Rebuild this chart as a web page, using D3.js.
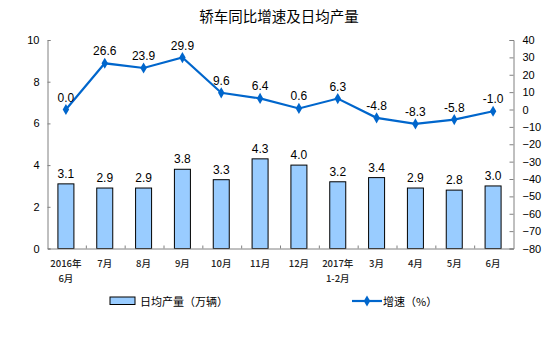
<!DOCTYPE html>
<html><head><meta charset="utf-8">
<script src="https://cdn.jsdelivr.net/npm/d3@7"></script>
<style>body{margin:0;background:#fff}svg{display:block}</style>
</head><body><svg id="c" width="550" height="342"></svg>
<script>
const categories = [["2016年","6月"],["7月"],["8月"],["9月"],["10月"],["11月"],["12月"],["2017年","1-2月"],["3月"],["4月"],["5月"],["6月"]];
const dailyOutput = [3.1,2.9,2.9,3.8,3.3,4.3,4.0,3.2,3.4,2.9,2.8,3.0];
const growth = [0.0,26.6,23.9,29.9,9.6,6.4,0.6,6.3,-4.8,-8.3,-5.8,-1.0];
const leftTicks = [0,2,4,6,8,10];
const rightTicks = [-80,-70,-60,-50,-40,-30,-20,-10,0,10,20,30,40];
const title = "轿车同比增速及日均产量";
const barName = "日均产量（万辆）";
const lineName = "增速（%）";

const svg = d3.select("#c");
const L = 47.5, R = 513.5, T = 40, B = 248.5;
const cjk = "'Noto Sans CJK SC', sans-serif";
const num = "'Liberation Sans', Arial, sans-serif";
const x = d3.scaleBand().domain(d3.range(categories.length)).range([L, R]);
const yL = d3.scaleLinear().domain([0,10]).range([B, T]);
const yR = d3.scaleLinear().domain([-80,40]).range([B, T]);
const axisColor = "#808080";

svg.append("text").attr("x", 279).attr("y", 22).attr("text-anchor","middle")
  .attr("font-family", cjk).attr("font-size", 14.5).attr("font-weight", 400).text(title);

// bars
const bw = 16;
svg.selectAll("rect.bar").data(dailyOutput).join("rect")
  .attr("x", (d,i)=> x(i) + x.bandwidth()/2 - bw/2 - 1)
  .attr("y", d=> yL(d)).attr("width", bw).attr("height", d=> B - yL(d))
  .attr("fill", "#99ccff").attr("stroke", "#000").attr("stroke-width", 1);
svg.selectAll("text.bl").data(dailyOutput).join("text")
  .attr("x", (d,i)=> x(i) + x.bandwidth()/2 - 1).attr("y", d=> yL(d) - 6)
  .attr("text-anchor","middle").attr("font-family", num).attr("font-size", 12)
  .text(d=> d.toFixed(1));

// axes
const gL = svg.append("g").attr("transform", `translate(${L},0)`)
  .call(d3.axisLeft(yL).tickValues(leftTicks).tickSize(-3).tickPadding(8));
const gR = svg.append("g").attr("transform", `translate(${R},0)`)
  .call(d3.axisRight(yR).tickValues(rightTicks).tickSize(-4).tickPadding(9));
const gB = svg.append("g").attr("transform", `translate(0,${B})`)
  .call(d3.axisBottom(x).tickSize(0).tickFormat(""));
gB.selectAll(".tick").remove();
// category boundary ticks
svg.selectAll("line.ct").data(d3.range(1, categories.length)).join("line")
  .attr("x1", i=> x(i)).attr("x2", i=> x(i)).attr("y1", B).attr("y2", B-3)
  .attr("stroke", axisColor);
[gL,gR,gB].forEach(g=>{
  g.select(".domain").attr("stroke", axisColor);
  g.selectAll(".tick line").attr("stroke", axisColor);
  g.selectAll(".tick text").attr("font-family", num).attr("font-size", 11).attr("fill","#000");
});

// x labels
const xl = svg.selectAll("text.xl").data(categories).join("text")
  .attr("text-anchor","middle").attr("font-family", cjk).attr("font-size", 9.5)
  .attr("font-weight", 500).attr("fill","#222");
xl.each(function(d,i){
  const t = d3.select(this);
  d.forEach((s,j)=> t.append("tspan").attr("x", x(i)+x.bandwidth()/2 - 1).attr("y", 267 + j*15).text(s));
});

// line
const line = d3.line().x((d,i)=> x(i)+x.bandwidth()/2 - 1).y(d=> yR(d));
const lineColor = "#0066cc";
svg.append("path").datum(growth).attr("d", line).attr("fill","none")
  .attr("stroke", lineColor).attr("stroke-width", 2.2);
const diamond = d3.symbol().type(d3.symbolDiamond).size(36);
svg.selectAll("path.pt").data(growth).join("path")
  .attr("d", diamond).attr("fill", lineColor)
  .attr("transform", (d,i)=> `translate(${x(i)+x.bandwidth()/2 - 1},${yR(d)})`);
svg.selectAll("text.ll").data(growth).join("text")
  .attr("x", (d,i)=> x(i)+x.bandwidth()/2 - 1).attr("y", d=> yR(d) - 8)
  .attr("text-anchor","middle").attr("font-family", num).attr("font-size", 12)
  .text(d=> d.toFixed(1));

// legend
svg.append("rect").attr("x", 110).attr("y", 297).attr("width", 25).attr("height", 7.5)
  .attr("fill","#99ccff").attr("stroke","#000");
svg.append("text").attr("x", 140).attr("y", 305.5).attr("font-family", cjk).attr("font-size", 11).text(barName);
svg.append("line").attr("x1", 352).attr("x2", 382).attr("y1", 301).attr("y2", 301)
  .attr("stroke", lineColor).attr("stroke-width", 2.2);
svg.append("path").attr("d", diamond).attr("fill", lineColor).attr("transform","translate(367,301)");
svg.append("text").attr("x", 383).attr("y", 305.5).attr("font-family", cjk).attr("font-size", 11).text(lineName);
</script></body></html>
